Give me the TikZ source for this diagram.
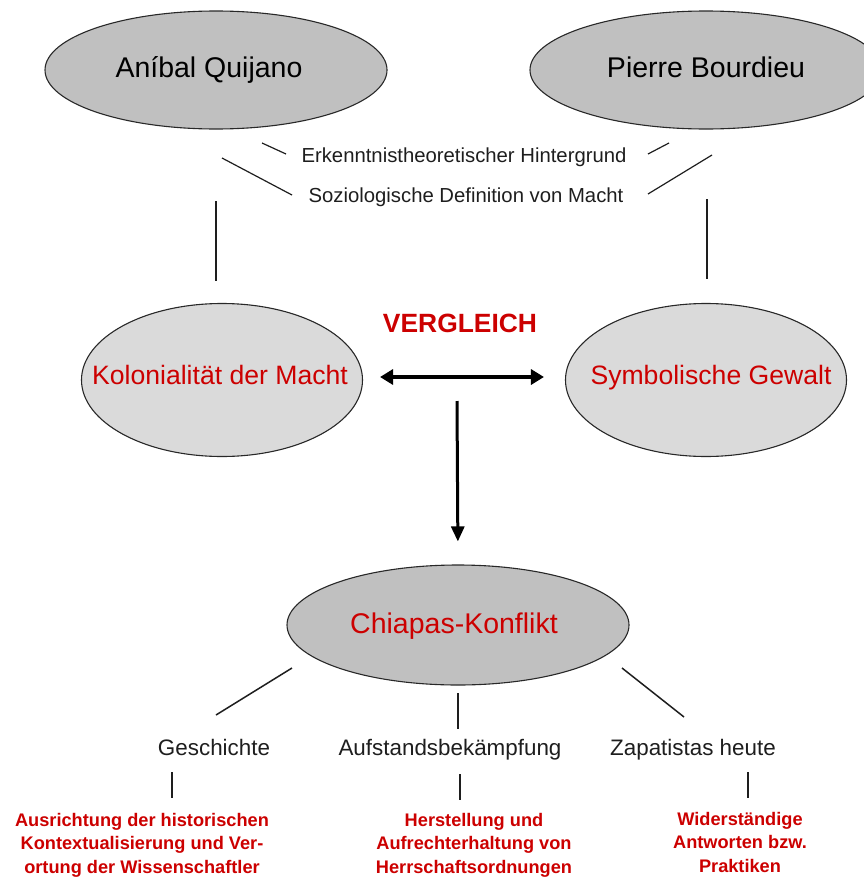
\documentclass[tikz,border=0pt]{standalone}
\usepackage{fontspec}
\setmainfont{Liberation Sans}
\usetikzlibrary{shapes.geometric,arrows.meta}
\definecolor{mred}{RGB}{204,0,0}
\definecolor{dgray}{RGB}{192,192,192}
\definecolor{lgray}{RGB}{218,218,218}
\definecolor{edgec}{RGB}{40,40,40}
\definecolor{linec}{RGB}{30,30,30}
\begin{document}
\begin{tikzpicture}[x=1pt,y=-1pt,
  oval/.style={ellipse, draw=edgec, line width=1.1pt, inner sep=0pt},
  bigtxt/.style={font=\fontsize{28.5}{34}\selectfont, inner sep=0pt, anchor=base},
  midtxt/.style={font=\fontsize{26.6}{32}\selectfont, text=mred, inner sep=0pt, anchor=base},
  smalllbl/.style={font=\fontsize{20.3}{24}\selectfont, text=linec, inner sep=0pt, anchor=base},
  sublbl/.style={font=\fontsize{22.4}{26}\selectfont, text=linec, inner sep=0pt, anchor=base},
  redtxt/.style={font=\bfseries\fontsize{18.2}{23.5}\selectfont, text=mred, align=center, inner sep=0pt},
  thin/.style={draw=linec, line width=1.2pt},
  mline/.style={draw=linec, line width=1.5pt},
  vline/.style={draw=linec, line width=2pt}
]
\useasboundingbox (0,0) rectangle (863,878);

% top ellipses
\node[oval, fill=dgray, minimum width=342pt, minimum height=118pt] (aq) at (216,70) {};
\node[oval, fill=dgray, minimum width=352pt, minimum height=118pt] (pb) at (706,70) {};
\node[bigtxt] (aqt) at (209,77) {Aníbal Quijano};
\node[bigtxt] (pbt) at (706,77) {Pierre Bourdieu};

% labels
\node[smalllbl] (erk) at (464,162) {Erkenntnistheoretischer Hintergrund};
\node[smalllbl] (soz) at (466,202) {Soziologische Definition von Macht};

% middle ellipses
\node[oval, fill=lgray, minimum width=281pt, minimum height=153pt] (kol) at (222,380) {};
\node[oval, fill=lgray, minimum width=281pt, minimum height=153pt] (sym) at (706,380) {};
\node[midtxt] (kolt) at (220,384.5) {Kolonialität der Macht};
\node[midtxt] (symt) at (711,384.5) {Symbolische Gewalt};

\node[font=\bfseries\fontsize{26.4}{31}\selectfont, text=mred, inner sep=0pt, anchor=base] (verg) at (460,332) {VERGLEICH};

% Chiapas
\node[oval, fill=dgray, minimum width=342pt, minimum height=120pt] (chi) at (458,625) {};
\node[bigtxt, text=mred] (chit) at (454,633) {Chiapas-Konflikt};

% sub labels
\node[sublbl] (gesch) at (214,755) {Geschichte};
\node[sublbl] (auf) at (450,755) {Aufstandsbekämpfung};
\node[sublbl] (zap) at (693,755) {Zapatistas heute};

\node[redtxt] (r1) at (142,845) {Ausrichtung der historischen\\Kontextualisierung und Ver-\\ortung der Wissenschaftler};
\node[redtxt] (r2) at (474,845) {Herstellung und\\Aufrechterhaltung von\\Herrschaftsordnungen};
\node[redtxt] (r3) at (740,842) {Widerständige\\Antworten bzw.\\Praktiken};

% coordinates for free-standing connectors
\coordinate (e1a) at (262,143); \coordinate (e1b) at (286,154);
\coordinate (s1a) at (222,158); \coordinate (s1b) at (292,195);
\coordinate (e2a) at (669,143); \coordinate (e2b) at (648,154);
\coordinate (s2a) at (712,155); \coordinate (s2b) at (648,194);
\coordinate (v1a) at (216,201); \coordinate (v1b) at (216,281);
\coordinate (v2a) at (707,199); \coordinate (v2b) at (707,279);
\coordinate (arrstart) at (457,401);
\coordinate (b1a) at (292,668); \coordinate (b1b) at (216,715);
\coordinate (b2a) at (458,693); \coordinate (b2b) at (458,729);
\coordinate (b3a) at (622,668); \coordinate (b3b) at (684,717);
\coordinate (c1a) at (172,772); \coordinate (c1b) at (172,798);
\coordinate (c2a) at (460,774); \coordinate (c2b) at (460,800);
\coordinate (c3a) at (748,772); \coordinate (c3b) at (748,798);

\draw[thin] (e1a) -- (e1b);
\draw[thin] (s1a) -- (s1b);
\draw[thin] (e2a) -- (e2b);
\draw[thin] (s2a) -- (s2b);
\draw[vline] (v1a) -- (v1b);
\draw[vline] (v2a) -- (v2b);

% arrows
\draw[draw=black, line width=4pt, {Triangle[length=13pt,width=15pt]}-{Triangle[length=13pt,width=15pt]}, shorten <=17pt, shorten >=21pt] ([yshift=3pt]kol.east) -- ([yshift=3pt]sym.west);
\draw[draw=black, line width=3pt, -{Triangle[length=15pt,width=13pt]}, shorten >=23pt] (arrstart) -- (chi.north);

% bottom connectors
\draw[mline] (b1a) -- (b1b);
\draw[mline] (b2a) -- (b2b);
\draw[mline] (b3a) -- (b3b);
\draw[mline] (c1a) -- (c1b);
\draw[mline] (c2a) -- (c2b);
\draw[mline] (c3a) -- (c3b);
\end{tikzpicture}
\end{document}
